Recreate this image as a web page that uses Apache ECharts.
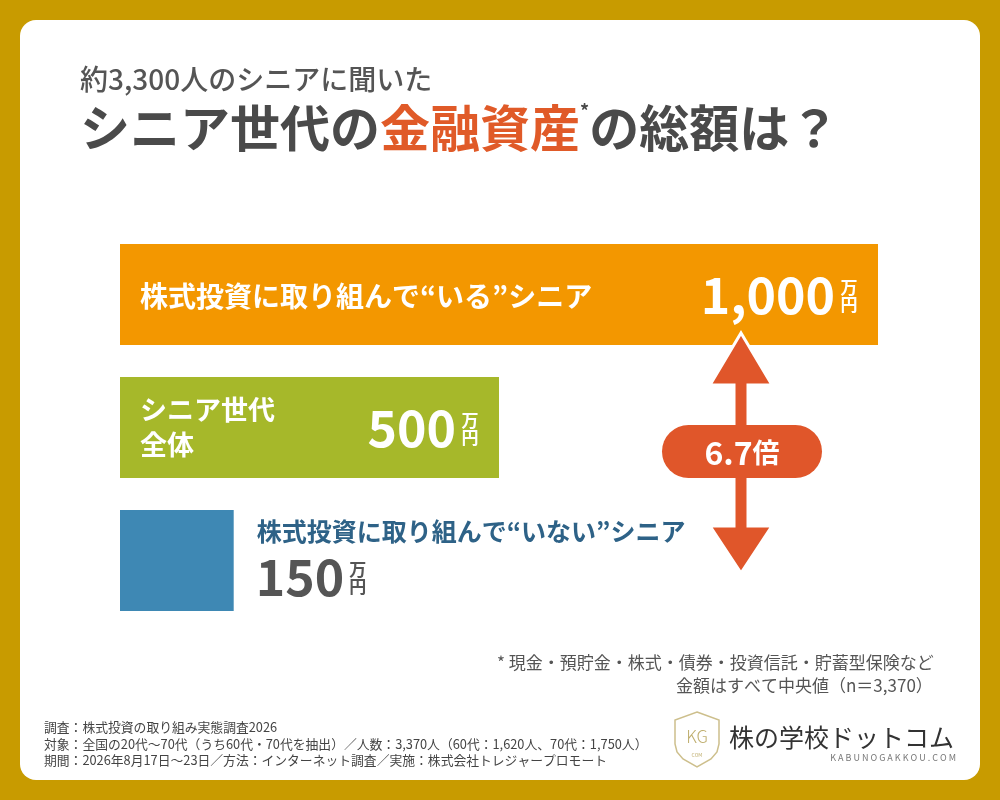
<!DOCTYPE html>
<html><head><meta charset="utf-8">
<script src="https://cdn.jsdelivr.net/npm/echarts@6/dist/echarts.min.js"></script>
<style>html,body{margin:0;padding:0;background:#C89B00;}#c{width:1000px;height:800px;}</style>
</head><body><div id="c"></div>
<script>
const categories = ['株式投資に取り組んで“いる”シニア', 'シニア世代\n全体', '株式投資に取り組んで“いない”シニア'];
const values = [1000, 500, 150];
const valueLabels = ['1,000', '500', '150'];
const unitLabel = '万円';
const barColors = ['#F39700', '#A6B82A', '#3E88B4'];
const ratioLabel = '6.7倍';

const FF = "'Noto Sans CJK JP','Noto Sans',sans-serif";
const chart = echarts.init(document.getElementById('c'));

function renderLabels(params, api) {
  const i = api.value(1);
  const end = api.coord([api.value(0), i]);
  const start = api.coord([0, i]);
  const cy = end[1];
  const children = [];
  const unitText = (x, y, color) => [
    {type:'text', style:{text:unitLabel[0], x:x, y:y-8, fill:color, font:'bold 17px ' + FF, align:'center', verticalAlign:'middle'}},
    {type:'text', style:{text:unitLabel[1], x:x, y:y+9, fill:color, font:'bold 17px ' + FF, align:'center', verticalAlign:'middle'}}
  ];
  if (i === 0) {
    children.push({type:'text', style:{text:categories[i], x:start[0]+20, y:cy+2, fill:'#fff', font:'bold 28px ' + FF, align:'left', verticalAlign:'middle'}});
  } else if (i === 1) {
    children.push({type:'text', style:{text:categories[i], x:start[0]+20, y:cy, fill:'#fff', font:'bold 27px ' + FF, lineHeight:35, align:'left', verticalAlign:'middle'}});
  }
  if (i < 2) {
    children.push({type:'text', style:{text:valueLabels[i], x:end[0]-43, y:cy, fill:'#fff', font:'bold 50px ' + FF, align:'right', verticalAlign:'middle'}});
    children.push(...unitText(end[0]-29, cy+1, '#fff'));
  } else {
    children.push({type:'text', style:{text:categories[i], x:end[0]+23, y:cy-29, fill:'#2E6287', font:'bold 25px ' + FF, align:'left', verticalAlign:'middle'}});
    children.push({type:'text', style:{text:valueLabels[i], x:end[0]+22, y:cy+16, fill:'#555', font:'bold 50px ' + FF, align:'left', verticalAlign:'middle'}});
    children.push(...unitText(end[0]+124, cy+17, '#555'));
  }
  return {type:'group', children:children};
}

const option = {
  backgroundColor: '#C89B00',
  animation: false,
  grid: {left:120, right:122, top:228, height:399},
  xAxis: {type:'value', min:0, max:1000, show:false},
  yAxis: {type:'category', data:categories, inverse:true, show:false},
  series: [
    {type:'bar', data: values.map((v,i)=>({value:v, itemStyle:{color:barColors[i]}})), barWidth:101, silent:true, z:2},
    {type:'custom', renderItem: renderLabels, data: values.map((v,i)=>[v,i]), z:5, silent:true, clip:false}
  ],
  graphic: [
    {type:'rect', z:-10, shape:{x:20, y:20, width:960, height:760, r:16}, style:{fill:'#fff'}},
    {type:'text', z:10, style:{text:'約3,300人のシニアに聞いた', x:80, y:79, fill:'#555', font:'500 28px ' + FF, verticalAlign:'middle'}},
    {type:'text', z:10, style:{
      text:'{a|シニア世代の}{b|金融資産}{s|*}{a|の総額は？}', x:80, y:128, verticalAlign:'middle',
      rich:{
        a:{fontSize:50, fontWeight:'bold', fontFamily:FF, fill:'#4A4A4A'},
        b:{fontSize:50, fontWeight:'bold', fontFamily:FF, fill:'#E05A28'},
        s:{fontSize:18, fontWeight:'bold', fontFamily:FF, fill:'#4A4A4A', padding:[0,0,34,0]}
      }}},
    {type:'polygon', z:20, shape:{points:[[741,333],[772,385],[748,385],[748,526],[772,526],[741,573],[710,526],[734,526],[734,385],[710,385]]},
      style:{fill:'#E0562A', stroke:'#fff', lineWidth:3, lineJoin:'miter'}},
    {type:'rect', z:21, shape:{x:662, y:425, width:160, height:53, r:26.5}, style:{fill:'#E0562A'}},
    {type:'text', z:22, style:{text:'{n|6.7}{k|倍}', x:742, y:453, align:'center', verticalAlign:'middle',
      rich:{n:{fontSize:32, fontWeight:'bold', fontFamily:FF, fill:'#fff'}, k:{fontSize:27, fontWeight:'bold', fontFamily:FF, fill:'#fff'}}}},
    {type:'text', z:10, style:{text:'* 現金・預貯金・株式・債券・投資信託・貯蓄型保険など', x:497, y:663, fill:'#555', font:'17px ' + FF, verticalAlign:'middle'}},
    {type:'text', z:10, style:{text:'金額はすべて中央値（n＝3,370）', x:676, y:686, fill:'#555', font:'17px ' + FF, verticalAlign:'middle'}},
    {type:'text', z:10, style:{text:'調査：株式投資の取り組み実態調査2026\n対象：全国の20代〜70代（うち60代・70代を抽出）／人数：3,370人（60代：1,620人、70代：1,750人）\n期間：2026年8月17日〜23日／方法：インターネット調査／実施：株式会社トレジャープロモート',
      x:44, y:744, fill:'#444', font:'12.8px ' + FF, lineHeight:16.5, verticalAlign:'middle'}},
    {type:'polygon', z:10, shape:{points:[[697,712],[719,720],[719,744],[717,752],[711,759],[697,767],[683,759],[677,752],[675,744],[675,720]]}, style:{fill:'none', stroke:'#CDBF8C', lineWidth:1.5}},
    {type:'text', z:10, style:{text:'KG', x:697, y:737, align:'center', verticalAlign:'middle', fill:'#BFAE6E', font:'300 17px ' + FF}},
    {type:'text', z:10, style:{text:'COM', x:697, y:755, align:'center', verticalAlign:'middle', fill:'#BFAE6E', font:'5px ' + FF}},
    {type:'text', z:10, style:{text:'株の学校ドットコム', x:729, y:737, fill:'#333', font:'25px ' + FF, verticalAlign:'middle'}},
    {type:'text', z:10, style:{text:'K A B U N O G A K K O U . C O M', x:956, y:758, align:'right', fill:'#777', font:'9px ' + FF, verticalAlign:'middle'}}
  ]
};
chart.setOption(option);
</script></body></html>
